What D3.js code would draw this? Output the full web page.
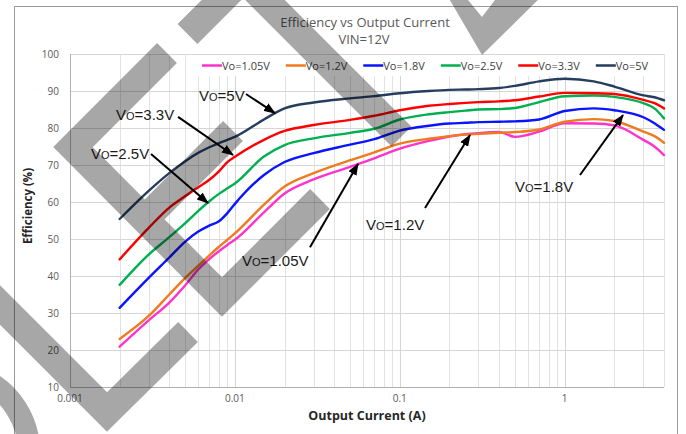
<!DOCTYPE html>
<html><head><meta charset="utf-8">
<script src="https://cdn.jsdelivr.net/npm/d3@7"></script>
<style>
html,body{margin:0;padding:0;background:#fff;}
svg{display:block;}
</style></head>
<body>
<svg id="chart" width="686" height="434"></svg>
<script>
// Output current sample points (A), shared by every series
const currents = [0.002,0.003,0.004,0.005,0.006,0.007,0.008,0.009,0.01,0.015,0.02,0.03,0.05,0.07,0.1,0.15,0.2,0.25,0.3,0.4,0.5,0.7,1,1.5,2,3,3.5,4];

// Efficiency (%) per output voltage
const eff105 = [20.9,28.0,32.8,37.5,41.8,44.6,46.7,48.4,49.8,57.2,62.3,66.1,69.5,71.8,74.4,76.5,77.7,78.3,78.6,78.9,77.6,79.0,81.3,81.2,80.7,76.8,75.0,72.7];
const eff12  = [23.0,29.2,35.0,39.5,42.8,45.6,47.9,49.8,51.5,59.3,64.2,67.8,71.3,73.4,75.8,77.1,77.8,78.2,78.4,78.7,78.9,79.6,81.7,82.4,81.9,79.0,77.8,76.0];
const eff18  = [31.4,39.5,45.0,49.3,52.0,53.6,54.8,57.0,59.5,67.3,70.8,73.2,75.5,77.0,79.3,80.6,81.2,81.4,81.6,81.7,81.8,82.3,84.6,85.3,84.8,82.9,81.3,79.5];
const eff25  = [37.6,45.8,50.5,54.3,57.6,60.2,62.2,63.7,65.0,72.3,75.4,77.2,78.7,79.8,82.3,83.7,84.3,84.7,85.0,85.1,85.4,87.0,88.6,88.8,88.4,86.7,85.3,82.6];
const eff33  = [44.5,53.0,58.5,61.6,64.0,66.0,68.3,70.8,72.2,76.8,79.2,80.8,82.2,83.3,84.8,86.0,86.5,86.8,87.0,87.2,87.5,88.5,89.5,89.4,89.2,87.6,86.7,85.3];
const eff50  = [55.4,63.0,67.8,71.0,73.3,74.8,75.9,76.8,77.6,82.3,85.3,86.9,88.0,88.6,89.4,90.0,90.3,90.4,90.5,90.8,91.4,92.6,93.3,92.6,91.2,88.8,88.3,87.5];

const seriesNames  = ["Vo=1.05V","Vo=1.2V","Vo=1.8V","Vo=2.5V","Vo=3.3V","Vo=5V"];
const seriesValues = [eff105, eff12, eff18, eff25, eff33, eff50];
const seriesColors = ["#ff33cc","#f07a1e","#0a14ff","#00b050","#ff0000","#253d5e"];

const yTicks = [10,20,30,40,50,60,70,80,90,100];
const xMajorTicks = [0.001,0.01,0.1,1];
const xTickLabels = ["0.001","0.01","0.1","1"];

// Call-out labels: text anchor, arrow tail and arrow tip in (current, efficiency)
const calloutRest = ["=5V","=3.3V","=2.5V","=1.05V","=1.2V","=1.8V"];
const calloutText = [[0.00606,87.3],[0.0019,82.2],[0.001341,71.6],[0.01104,42.7],[0.0624,52.4],[0.4995,62.7]];
const calloutTail = [[0.01167,89.2],[0.00452,83.0],[0.0031,73.0],[0.02853,47.8],[0.1422,58.4],[1.238,67.3]];
const calloutTip  = [[0.0175,84.0],[0.00974,72.7],[0.00687,59.7],[0.0558,70.3],[0.2666,78.1],[2.257,83.5]];

(function draw() {
const svg = d3.select("#chart");
const W = 686, H = 434;
const pL = 70, pR = 664, pT = 54, pB = 387;

const x = d3.scaleLog().domain([0.001, 4]).range([pL, pR]);
const y = d3.scaleLinear().domain([10, 100]).range([pB, pT]);

const uiFont = "'Open Sans', 'Noto Sans', sans-serif";

svg.append("rect").attr("width", W).attr("height", H).attr("fill", "#fff");

// chart frame
svg.append("rect").attr("x", 14.5).attr("y", 6.5).attr("width", 663).attr("height", 470)
  .attr("fill", "none").attr("stroke", "#9a9a9a").attr("stroke-width", 1);

// grid
const grid = svg.append("g");
const minorX = [];
[0.001,0.01,0.1,1].forEach(d => { for (let k = 2; k <= 9; k++) { const v = d * k; if (v <= 4.0001) minorX.push(v); } });
grid.append("g").selectAll("line").data(minorX).join("line")
  .attr("x1", d => Math.round(x(d)) + 0.5).attr("x2", d => Math.round(x(d)) + 0.5)
  .attr("y1", pT).attr("y2", pB).attr("stroke", "#e2e2e2").attr("stroke-width", 1);
grid.append("g").selectAll("line").data(xMajorTicks).join("line")
  .attr("x1", d => Math.round(x(d)) + 0.5).attr("x2", d => Math.round(x(d)) + 0.5)
  .attr("y1", pT).attr("y2", pB).attr("stroke", "#d4d4d4").attr("stroke-width", 1);
grid.append("g").selectAll("line").data(yTicks).join("line")
  .attr("x1", pL).attr("x2", pR)
  .attr("y1", d => Math.round(y(d)) + 0.5).attr("y2", d => Math.round(y(d)) + 0.5)
  .attr("stroke", "#d6d6d6").attr("stroke-width", 1);
// axis lines
svg.append("line").attr("x1", pL + 0.5).attr("x2", pL + 0.5).attr("y1", pT).attr("y2", pB)
  .attr("stroke", "#b0b0b0");
svg.append("line").attr("x1", pL).attr("x2", pR).attr("y1", Math.round(pB) + 0.5).attr("y2", Math.round(pB) + 0.5)
  .attr("stroke", "#b0b0b0");

// tick labels
svg.append("g").selectAll("text").data(yTicks).join("text")
  .attr("x", 59).attr("y", d => y(d) + 3.5).attr("text-anchor", "end")
  .attr("font-family", uiFont).attr("font-size", 10).attr("fill", "#595959").text(d => d);
svg.append("g").selectAll("text").data(xMajorTicks).join("text")
  .attr("x", d => x(d)).attr("y", 402).attr("text-anchor", "middle")
  .attr("font-family", uiFont).attr("font-size", 10).attr("fill", "#595959")
  .text((d, i) => xTickLabels[i]);

// titles
svg.append("text").attr("x", 365).attr("y", 27).attr("text-anchor", "middle")
  .attr("font-family", uiFont).attr("font-size", 13).attr("fill", "#595959")
  .text("Efficiency vs Output Current");
svg.append("text").attr("x", 364).attr("y", 43.5).attr("text-anchor", "middle")
  .attr("font-family", uiFont).attr("font-size", 13).attr("fill", "#595959")
  .text("VIN=12V");
svg.append("text").attr("transform", "translate(32,206) rotate(-90)").attr("text-anchor", "middle")
  .attr("font-family", uiFont).attr("font-size", 11.5).attr("font-weight", "bold").attr("fill", "#262626")
  .text("Efficiency (%)");
svg.append("text").attr("x", 367).attr("y", 420).attr("text-anchor", "middle")
  .attr("font-family", uiFont).attr("font-size", 12.5).attr("font-weight", "bold").attr("fill", "#262626")
  .text("Output Current (A)");

// legend
svg.append("rect").attr("x", 195).attr("y", 55).attr("width", 467).attr("height", 21).attr("fill", "#fff");
const legend = svg.append("g");
let lx = 202;
seriesNames.forEach((name, i) => {
  legend.append("line").attr("x1", lx).attr("x2", lx + 20).attr("y1", 65.5).attr("y2", 65.5)
    .attr("stroke", seriesColors[i]).attr("stroke-width", 2.5);
  const t = legend.append("text").attr("x", lx + 20).attr("y", 69.5)
    .attr("font-family", uiFont).attr("font-size", 11).attr("fill", "#404040").text(name);
  lx += 20 + t.node().getComputedTextLength() + 16;
});

// efficiency curves
const line = d3.line().x(d => x(d[0])).y(d => y(d[1])).curve(d3.curveMonotoneX);
svg.append("g").selectAll("path").data(seriesValues).join("path")
  .attr("d", vals => line(currents.map((c, j) => [c, vals[j]])))
  .attr("fill", "none").attr("stroke", (d, i) => seriesColors[i])
  .attr("stroke-width", 2.4).attr("stroke-linejoin", "round").attr("stroke-linecap", "round");

// call-outs
svg.append("defs").append("marker").attr("id", "head")
  .attr("markerUnits", "userSpaceOnUse").attr("markerWidth", 12).attr("markerHeight", 9)
  .attr("refX", 11).attr("refY", 4.5).attr("orient", "auto")
  .append("path").attr("d", "M0,0 L12,4.5 L0,9 Z").attr("fill", "#000");
const callouts = svg.append("g");
calloutRest.forEach((rest, i) => {
  const tl = calloutTail[i], tp = calloutTip[i];
  callouts.append("line").attr("x1", x(tl[0])).attr("y1", y(tl[1]))
    .attr("x2", x(tp[0])).attr("y2", y(tp[1]))
    .attr("stroke", "#000").attr("stroke-width", 2).attr("marker-end", "url(#head)");
  const t = callouts.append("text").attr("x", x(calloutText[i][0])).attr("y", y(calloutText[i][1]))
    .attr("font-family", "'Liberation Sans', Arial, sans-serif").attr("font-size", 15).attr("fill", "#1a1a1a");
  t.append("tspan").text("V");
  t.append("tspan").attr("font-size", 11).text("O");
  t.append("tspan").text(rest);
});

// watermark bands
const wm = svg.append("g").attr("opacity", 0.34);
const band = (d, w) => wm.append("path").attr("d", d).attr("fill", "none").attr("stroke", "#000")
  .attr("stroke-width", w).attr("stroke-linejoin", "miter").attr("stroke-miterlimit", 10).attr("stroke-linecap", "butt");
band("M187.5,34 L243.25,-21.75 L401.5,136.5", 28);
band("M167,53 L73,147 L222,297 L320,199", 28);
band("M233,131 L140,224", 28);
band("M-30,275 L107,412 L188,332", 28);
band("M-24.3,375.9 A81,81 0 0 1 28.7,459", 22);
wm.append("path").attr("d", "M444,-10 L482,55 L548,-10 L502.6,-10 L482,17 L459.8,-10 Z").attr("fill", "#000");
})();
</script>
</body></html>
